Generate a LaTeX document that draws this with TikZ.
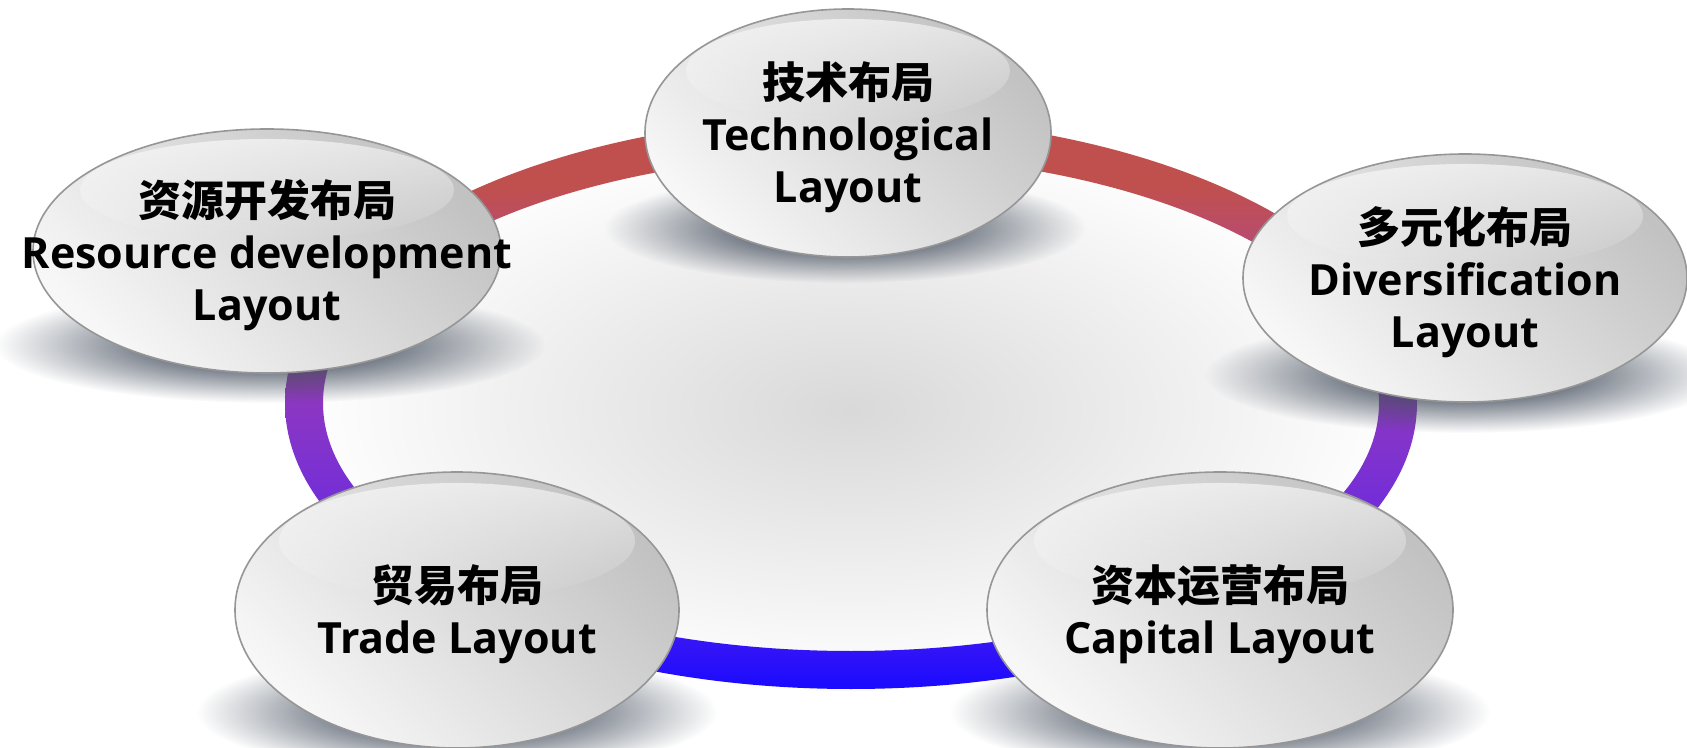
\documentclass[tikz,border=0pt]{standalone}
\usepackage{fontspec}
\setmainfont{Open Sans}
\newfontfamily\cjk{Noto Sans CJK SC}
\usetikzlibrary{shapes.geometric,fadings}

\definecolor{ringred}{RGB}{192,80,77}
\definecolor{ringpink}{RGB}{182,74,120}
\definecolor{ringpurple}{RGB}{140,55,195}
\definecolor{ringviolet}{RGB}{100,40,228}
\definecolor{ringblue}{RGB}{26,10,255}
\definecolor{bubbleedge}{RGB}{150,150,150}
\definecolor{shadowcol}{RGB}{70,80,95}

% リングの色（上が赤、下が青）
\pgfdeclareverticalshading{ringshade}{100bp}{color(0bp)=(ringblue); color(25bp)=(ringblue); color(36bp)=(ringviolet); color(50bp)=(ringpurple); color(63bp)=(ringpink); color(69bp)=(ringred); color(100bp)=(ringred)}
% 影のぼかし
\pgfdeclareradialshading{shadowfadeshading}{\pgfpointorigin}{color(0bp)=(pgftransparent!0); color(10bp)=(pgftransparent!20); color(25bp)=(pgftransparent!100); color(50bp)=(pgftransparent!100)}
\pgfdeclarefading{shadowfade}{\pgfuseshading{shadowfadeshading}}

\tikzset{
  bubble/.style={ellipse, draw=bubbleedge, line width=0.8pt, inner sep=0pt,
    top color=black!24, bottom color=black!3, shading angle=-45},
  bubbleshadow/.style={shadowcol, path fading=shadowfade},
  gloss/.style={white, path fading=south, fill opacity=0.6},
  bubbletext/.style={align=center, inner sep=0pt, yshift=-2pt,
    font=\bfseries\fontsize{21.5}{26}\selectfont},
}

\begin{document}
\begin{tikzpicture}[x=0.5pt, y=-0.5pt]
    \useasboundingbox (0,0) rectangle (1687,748);

    % 背景の描画
    \shade[inner color=black!15, outer color=white]
    (851,410) ellipse [x radius=560, y radius=280];

    % リングの描画
    \shade[shading=ringshade, even odd rule]
    (851,403) ellipse [x radius=566, y radius=286]
    (851,403) ellipse [x radius=528, y radius=248];

    % 影の描画
    \fill[bubbleshadow] (845,228) ellipse [x radius=240, y radius=55];
    \fill[bubbleshadow] (270,345) ellipse [x radius=275, y radius=58];
    \fill[bubbleshadow] (1465,375) ellipse [x radius=260, y radius=58];
    \fill[bubbleshadow] (457,712) ellipse [x radius=260, y radius=62];
    \fill[bubbleshadow] (1220,712) ellipse [x radius=270, y radius=62];

    % 楕円の描画
    \node[bubble, minimum width=203pt, minimum height=124pt] (tech) at (848,133) {};
    \node[bubble, minimum width=234pt, minimum height=122pt] (resource) at (267,251) {};
    \node[bubble, minimum width=222pt, minimum height=124pt] (divers) at (1465,278) {};
    \node[bubble, minimum width=222pt, minimum height=138pt] (trade) at (457,610) {};
    \node[bubble, minimum width=233pt, minimum height=138pt] (capital) at (1220,610) {};

    % ハイライトの描画
    \fill[gloss] (848,71) ellipse [x radius=162, y radius=52];
    \fill[gloss] (267,190) ellipse [x radius=187, y radius=51];
    \fill[gloss] (1465,216) ellipse [x radius=178, y radius=52];
    \fill[gloss] (457,541) ellipse [x radius=178, y radius=58];
    \fill[gloss] (1220,541) ellipse [x radius=186, y radius=58];

    % 文字の描画
    \node[bubbletext] (tech-text) at (tech.center) {{\cjk 技术布局}\\Technological\\Layout};
    \node[bubbletext] (resource-text) at (resource.center) {{\cjk 资源开发布局}\\Resource development\\Layout};
    \node[bubbletext] (divers-text) at (divers.center) {{\cjk 多元化布局}\\Diversification\\Layout};
    \node[bubbletext] (trade-text) at (trade.center) {{\cjk 贸易布局}\\Trade Layout};
    \node[bubbletext] (capital-text) at (capital.center) {{\cjk 资本运营布局}\\Capital Layout};

\end{tikzpicture}
\end{document}
